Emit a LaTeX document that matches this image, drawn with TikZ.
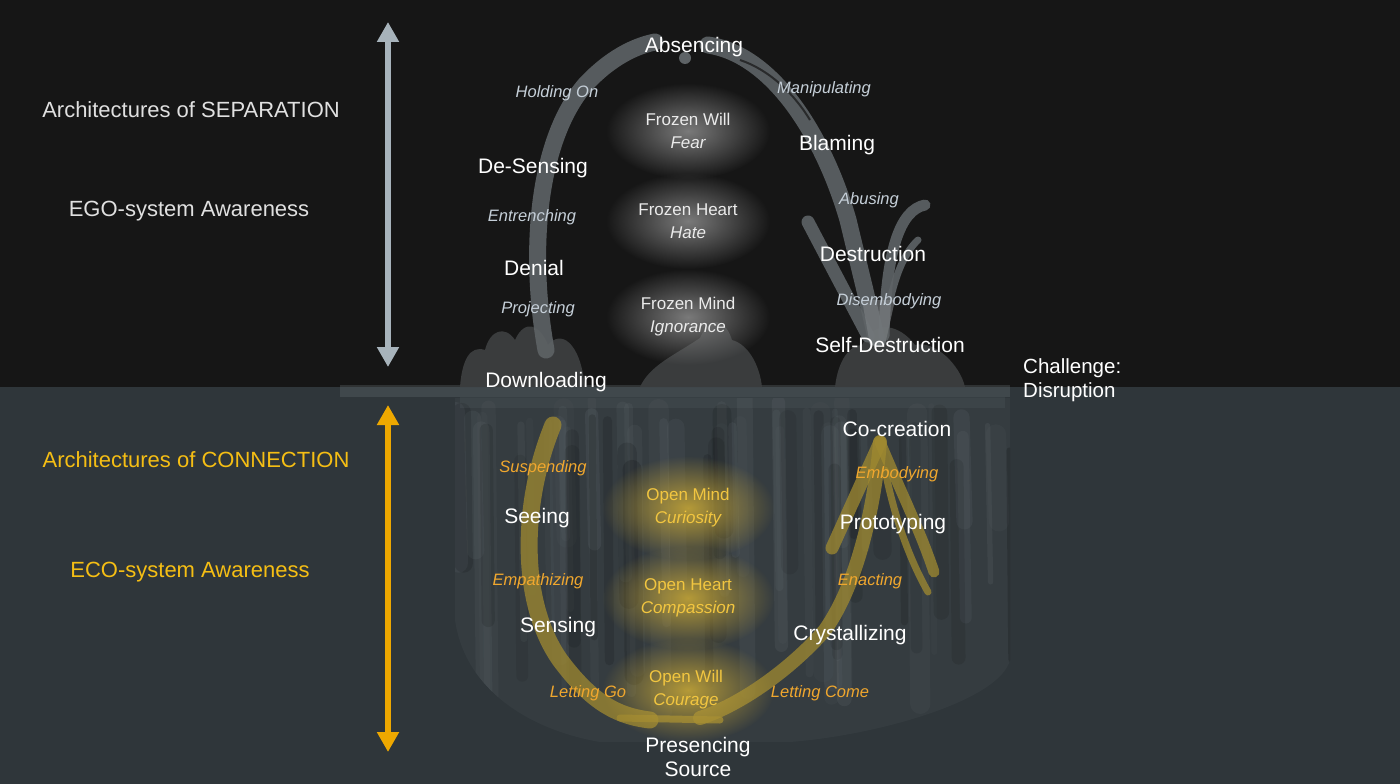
\documentclass[tikz,border=0pt]{standalone}
\usepackage{fontspec}
\setmainfont{Liberation Sans}
\usetikzlibrary{arrows.meta,fadings}
\tikzfading[name=glowfade, inner color=transparent!0, outer color=transparent!100]
\definecolor{bgtop}{HTML}{161616}
\definecolor{bgbot}{HTML}{2F363A}
\definecolor{arrgray}{HTML}{A7B3BB}
\definecolor{arrorange}{HTML}{EEA800}
\definecolor{headyellow}{HTML}{F5BE14}
\definecolor{verbgray}{HTML}{C5CFD8}
\definecolor{verborange}{HTML}{F0A72E}
\definecolor{openyellow}{HTML}{F2C640}
\definecolor{brushgray}{HTML}{5E6366}
\definecolor{brushdark}{HTML}{3A3C3D}
\definecolor{brushlight}{HTML}{6A7378}
\definecolor{mustard}{HTML}{A08A30}
\definecolor{glowgray}{HTML}{7A7A7A}
\definecolor{glowyellow}{HTML}{B59A38}
\begin{document}
\begin{tikzpicture}[x=1pt,y=-1pt,
  headtext/.style={font=\fontsize{22}{26}\selectfont, text=#1, inner sep=0pt},
  stage/.style={font=\fontsize{21}{25}\selectfont, text=white, inner sep=0pt},
  verb/.style={font=\fontsize{16.5}{20}\selectfont\itshape, text=verbgray, inner sep=0pt},
  verbo/.style={font=\fontsize{16.5}{20}\selectfont\itshape, text=verborange, inner sep=0pt},
  froz/.style={font=\fontsize{17}{23}\selectfont, text=white!92!black, align=center, inner sep=0pt},
  openst/.style={font=\fontsize{17}{23}\selectfont, text=openyellow, align=center, inner sep=0pt},
  brush/.style={line width=#1, line cap=round, draw=brushgray, opacity=0.9},
  ybrush/.style={line width=#1, line cap=round, draw=mustard, opacity=0.75},
  bigarrow/.style={line width=6.5pt, draw=#1, {Triangle[width=21pt,length=20pt]}-{Triangle[width=21pt,length=20pt]}}
]
\useasboundingbox (0,0) rectangle (1400,784);
% backgrounds
\fill[bgtop] (0,0) rectangle (1400,387);
\fill[bgbot] (0,387) rectangle (1400,784);

% ---------- bottom brush texture ----------
\begin{scope}
\clip (455,398) -- (1010,398) -- (1010,660)
  .. controls (1000,700) and (880,735) .. (790,742) -- (600,742)
  .. controls (530,730) and (465,690) .. (455,620) -- cycle;
\fill[brushlight, opacity=0.1] (440,390) rectangle (1020,760);
\pgfmathsetseed{11}
\foreach \i in {1,...,45}{
  \pgfmathsetmacro{\xx}{455+555*rnd}
  \pgfmathsetmacro{\ww}{5+16*rnd}
  \pgfmathsetmacro{\yt}{398+40*rnd}
  \pgfmathsetmacro{\yb}{520+220*rnd}
  \pgfmathsetmacro{\op}{0.06+0.12*rnd}
  \draw[line width=\ww pt, draw=brushlight, opacity=\op, line cap=round] (\xx,\yt) -- (\xx+3,\yb);
}
\pgfmathsetseed{5}
\foreach \i in {1,...,25}{
  \pgfmathsetmacro{\xx}{455+555*rnd}
  \pgfmathsetmacro{\ww}{6+14*rnd}
  \pgfmathsetmacro{\yt}{410+60*rnd}
  \pgfmathsetmacro{\yb}{520+180*rnd}
  \pgfmathsetmacro{\op}{0.06+0.1*rnd}
  \draw[line width=\ww pt, draw=black, opacity=\op, line cap=round] (\xx,\yt) -- (\xx+2,\yb);
}
\end{scope}
\fill[brushlight, opacity=0.3] (340,385) rectangle (1010,397);
\fill[brushlight, opacity=0.15] (460,397) rectangle (1005,408);

% ---------- top brush strokes ----------
\fill[brushdark] (460,387) .. controls (462,360) and (470,345) .. (485,350) .. controls (490,330) and (505,325) .. (515,340)
   .. controls (525,318) and (540,325) .. (548,345) .. controls (560,330) and (580,340) .. (585,387) -- cycle;
\fill[brushdark] (640,387) .. controls (650,365) and (675,355) .. (700,338) .. controls (710,315) and (725,318) .. (732,340)
   .. controls (750,345) and (760,368) .. (762,387) -- cycle;
\fill[brushdark] (835,387) .. controls (838,360) and (850,345) .. (862,345) .. controls (875,318) and (900,325) .. (915,345)
   .. controls (935,340) and (960,365) .. (965,387) -- cycle;
% left arc
\draw[brush=17pt] (546,350) .. controls (528,250) and (538,140) .. (585,85) .. controls (610,58) and (635,46) .. (655,42);
\draw[line width=2pt, draw=bgtop, opacity=0.7] (560,200) .. controls (565,140) and (585,100) .. (610,75);
\fill[brushgray] (685,58) circle (6);
% right arc
\draw[brush=17pt] (708,45) .. controls (775,55) and (825,140) .. (848,220) .. controls (860,270) and (870,310) .. (876,338);
\draw[line width=2pt, draw=bgtop, opacity=0.7] (740,60) .. controls (770,70) and (795,95) .. (810,120);
\draw[brush=13pt] (808,222) -- (868,336);
\draw[brush=11pt] (925,205) .. controls (900,210) and (886,250) .. (884,336);
\draw[brush=7pt] (918,240) .. controls (902,255) and (895,280) .. (890,300);
\fill[brushgray!80!white, opacity=0.6] (862,300) -- (895,300) -- (885,345) -- (870,345) -- cycle;

% ---------- bottom yellow U arrow ----------
\draw[ybrush=17pt] (553,425) .. controls (522,500) and (518,600) .. (560,660) .. controls (590,700) and (615,716) .. (650,720);
\draw[ybrush=14pt] (700,718) .. controls (740,705) and (790,670) .. (825,630) .. controls (860,580) and (875,500) .. (880,442);
\draw[ybrush=13pt] (880,442) -- (832,548);
\draw[ybrush=11pt] (880,442) .. controls (900,490) and (920,530) .. (934,572);
\draw[ybrush=7pt] (885,470) .. controls (895,520) and (910,560) .. (928,592);
\draw[ybrush=7pt] (620,718) -- (720,720);

% ---------- glows ----------
\foreach \cy in {131,221,317}
  {\fill[glowgray, path fading=glowfade] (688,\cy) ellipse (82 and 48);}
\foreach \cy in {508,598,690}
  {\fill[glowyellow, path fading=glowfade] (688,\cy) ellipse (86 and 52);}

% ---------- left side ----------
\coordinate (ta) at (388,22);
\coordinate (tb) at (388,367);
\coordinate (ba) at (388,405);
\coordinate (bb) at (388,752);
\draw[bigarrow=arrgray] (ta) -- (tb);
\draw[bigarrow=arrorange] (ba) -- (bb);
\node[headtext=white!88!black] (sep) at (191,110) {Architectures of SEPARATION};
\node[headtext=white!88!black] (ego) at (189,211) {EGO-system Awareness};
\node[headtext=headyellow] (con) at (196,460) {Architectures of CONNECTION};
\node[headtext=headyellow] (eco) at (190,572) {ECO-system Awareness};

% ---------- top labels ----------
\node[stage] (absencing) at (694,47) {Absencing};
\node[verb] (holding) at (557,93) {Holding On};
\node[verb] (manip) at (824,89) {Manipulating};
\node[stage] (blaming) at (837,145) {Blaming};
\node[stage] (desensing) at (533,168) {De-Sensing};
\node[verb] (entrench) at (532,217) {Entrenching};
\node[verb] (abusing) at (869,200) {Abusing};
\node[stage] (destruction) at (873,254) {Destruction};
\node[stage] (denial) at (534,268) {Denial};
\node[verb] (projecting) at (538,309) {Projecting};
\node[verb] (disemb) at (889,301) {Disembodying};
\node[stage] (selfdes) at (890,345) {Self-Destruction};
\node[stage] (downloading) at (546,382) {Downloading};
\node[froz] (fwill) at (688,131) {Frozen Will\\\itshape Fear};
\node[froz] (fheart) at (688,221) {Frozen Heart\\\itshape Hate};
\node[froz] (fmind) at (688,317) {Frozen Mind\\\itshape Ignorance};
\node[stage, font=\fontsize{20.5}{24}\selectfont, align=left, anchor=west] (challenge) at (1023,380) {Challenge:\\Disruption};

% ---------- bottom labels ----------
\node[stage] (cocreation) at (897,429) {Co-creation};
\node[verbo] (suspending) at (543,468) {Suspending};
\node[verbo] (embodying) at (897,474) {Embodying};
\node[stage] (seeing) at (537,518) {Seeing};
\node[stage] (prototyping) at (893,524) {Prototyping};
\node[verbo] (empath) at (538,581) {Empathizing};
\node[verbo] (enacting) at (870,581) {Enacting};
\node[stage] (sensing) at (558,627) {Sensing};
\node[stage] (crystal) at (850,635) {Crystallizing};
\node[verbo] (lettinggo) at (588,693) {Letting Go};
\node[verbo] (lettingcome) at (820,693) {Letting Come};
\node[openst] (omind) at (688,508) {Open Mind\\\itshape Curiosity};
\node[openst] (oheart) at (688,598) {Open Heart\\\itshape Compassion};
\node[openst] (owill) at (686,690) {Open Will\\\itshape Courage};
\node[stage, align=center, font=\fontsize{21}{24}\selectfont] (presencing) at (698,757) {Presencing\\Source};
\end{tikzpicture}
\end{document}
